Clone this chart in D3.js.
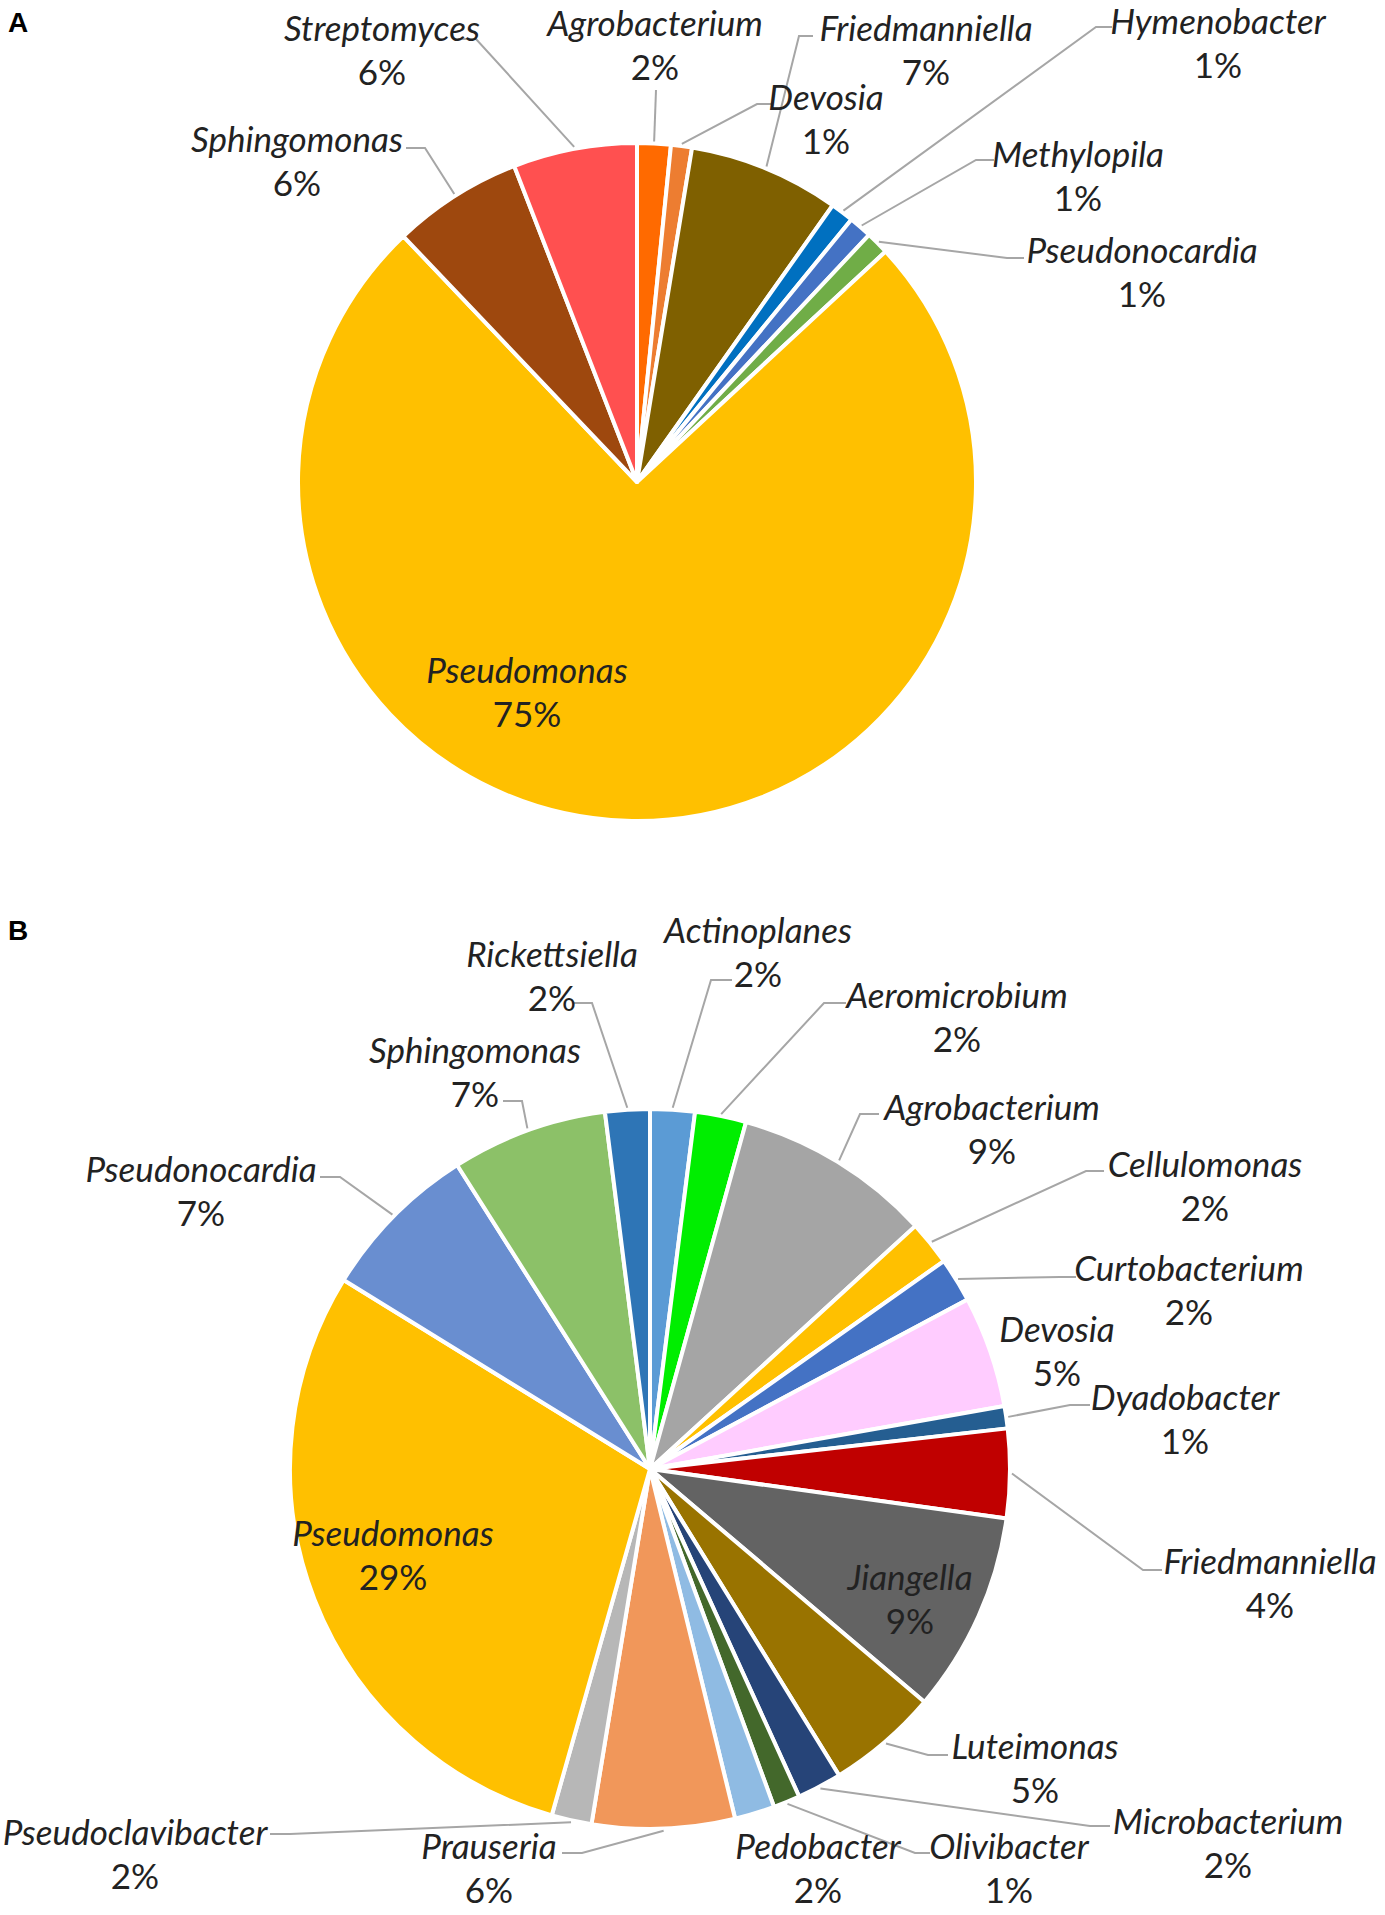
<!DOCTYPE html>
<html>
<head>
<meta charset="utf-8">
<script src="https://cdn.jsdelivr.net/npm/d3@7"></script>
<style>
  body { margin: 0; background: #fff; }
  .name { font-family: Lato, 'Open Sans', sans-serif; font-style: italic; font-size: 35px; fill: #222; }
  .pct { font-family: Lato, 'Open Sans', sans-serif; font-size: 35px; fill: #222; }
  .panel { font-family: 'Liberation Sans', Arial, sans-serif; font-weight: bold; font-size: 28px; fill: #000; }
</style>
</head>
<body>
<div id="container"></div>
<script>
const w = 1385,
  h = 1915;

// panel A
const generaA = ['Agrobacterium', 'Devosia', 'Friedmanniella', 'Hymenobacter', 'Methylopila',
  'Pseudonocardia', 'Pseudomonas', 'Sphingomonas', 'Streptomyces'];
const valuesA = [1.6, 1.0, 7.2, 1.1, 1.1, 1.1, 74.8, 6.2, 5.9];
const colorsA = ['#ff6a00', '#ed7d31', '#7f6000', '#0070c0', '#4472c4',
  '#70ad47', '#ffc000', '#9e480e', '#ff5050'];

// panel B
const generaB = ['Actinoplanes', 'Aeromicrobium', 'Agrobacterium', 'Cellulomonas', 'Curtobacterium',
  'Devosia', 'Dyadobacter', 'Friedmanniella', 'Jiangella', 'Luteimonas', 'Microbacterium',
  'Olivibacter', 'Pedobacter', 'Prauseria', 'Pseudoclavibacter', 'Pseudomonas',
  'Pseudonocardia', 'Sphingomonas', 'Rickettsiella'];
const valuesB = [2.0, 2.3, 8.9, 2.0, 2.0, 5.0, 1.0, 4.0, 9.0, 5.0, 2.0,
  1.2, 1.8, 6.4, 1.8, 29.4, 7.2, 7.0, 2.0];
const colorsB = ['#5b9bd5', '#00ee00', '#a5a5a5', '#ffc000', '#4472c4', '#ffccff', '#255e91',
  '#c00000', '#636363', '#997300', '#264478', '#43682b', '#8fbbe3', '#f1975a', '#b7b7b7',
  '#ffc000', '#698ed0', '#8cc168', '#2e75b6'];

// label placement: [x, y of name line, elbow x, elbow y, end x] (null = no leader)
const labelsA = [
  [655, 24, 656, 90, 656],
  [826, 98, 757, 104, 771],
  [926, 29, 799, 36, 813],
  [1218, 22, 1096, 27, 1112],
  [1078, 155, 976, 160, 994],
  [1142, 251, 1007, 258, 1024],
  [527, 671, null],
  [297, 140, 425, 148, 406],
  [382, 29, 476, 39, 458]
];
const labelsB = [
  [758, 931, 711, 980, 732],
  [957, 996, 824, 1003, 846],
  [992, 1108, 860, 1114, 879],
  [1205, 1165, 1086, 1171, 1104],
  [1189, 1269, 1060, 1277, 1076],
  [1057, 1330, null],
  [1185, 1398, 1070, 1405, 1090],
  [1270, 1562, 1143, 1570, 1162],
  [910, 1578, null],
  [1035, 1747, 928, 1755, 948],
  [1228, 1822, 1090, 1826, 1110],
  [1009, 1847, 915, 1853, 930],
  [818, 1847, null],
  [489, 1847, 582, 1853, 562],
  [135, 1833, 290, 1834, 270],
  [393, 1534, null],
  [201, 1170, 340, 1177, 320],
  [475, 1051, 522, 1101, 503],
  [552, 955, 592, 1003, 574]
];

const svg = d3.select('#container').append('svg').attr('width', w).attr('height', h);
svg.append('rect').attr('width', w).attr('height', h).attr('fill', '#fff');

svg.append('text').attr('class', 'panel').attr('x', 8).attr('y', 32).text('A');
svg.append('text').attr('class', 'panel').attr('x', 8).attr('y', 940).text('B');

function drawPie(genera, values, colors, labels, cx, cy, r) {
  const total = d3.sum(values);
  const pie = d3.pie().sort(null).value((d) => d.v);
  const arcs = pie(genera.map((g, i) => ({ g: g, v: values[i], c: colors[i], l: labels[i] })));
  const arc = d3.arc().innerRadius(0).outerRadius(r);
  const rim = d3.arc().innerRadius(r + 2).outerRadius(r + 2);

  const g = svg.append('g').attr('transform', 'translate(' + cx + ', ' + cy + ')');
  g.selectAll('path')
    .data(arcs)
    .enter()
    .append('path')
    .attr('d', arc)
    .attr('fill', (d) => d.data.c)
    .attr('stroke', '#fff')
    .attr('stroke-width', 4)
    .attr('stroke-linejoin', 'round');

  // leader lines
  svg
    .selectAll(null)
    .data(arcs.filter((d) => d.data.l[2] !== null))
    .enter()
    .append('polyline')
    .attr('points', (d) => {
      const p = rim.centroid(d);
      const l = d.data.l;
      return [[p[0] + cx, p[1] + cy], [l[2], l[3]], [l[4], l[3]]].map((q) => q.join(',')).join(' ');
    })
    .attr('fill', 'none')
    .attr('stroke', '#a6a6a6')
    .attr('stroke-width', 2);

  const lab = svg.selectAll(null).data(arcs).enter().append('g');
  lab
    .append('text')
    .attr('class', 'name')
    .attr('text-anchor', 'middle')
    .attr('x', (d) => d.data.l[0])
    .attr('y', (d) => d.data.l[1])
    .attr('dy', '0.35em')
    .text((d) => d.data.g);
  lab
    .append('text')
    .attr('class', 'pct')
    .attr('text-anchor', 'middle')
    .attr('x', (d) => d.data.l[0])
    .attr('y', (d) => d.data.l[1] + 44)
    .attr('dy', '0.35em')
    .text((d) => Math.round((100 * d.data.v) / total) + '%');
}

drawPie(generaA, valuesA, colorsA, labelsA, 637, 482, 339);
drawPie(generaB, valuesB, colorsB, labelsB, 650, 1469, 360);
</script>
</body>
</html>
